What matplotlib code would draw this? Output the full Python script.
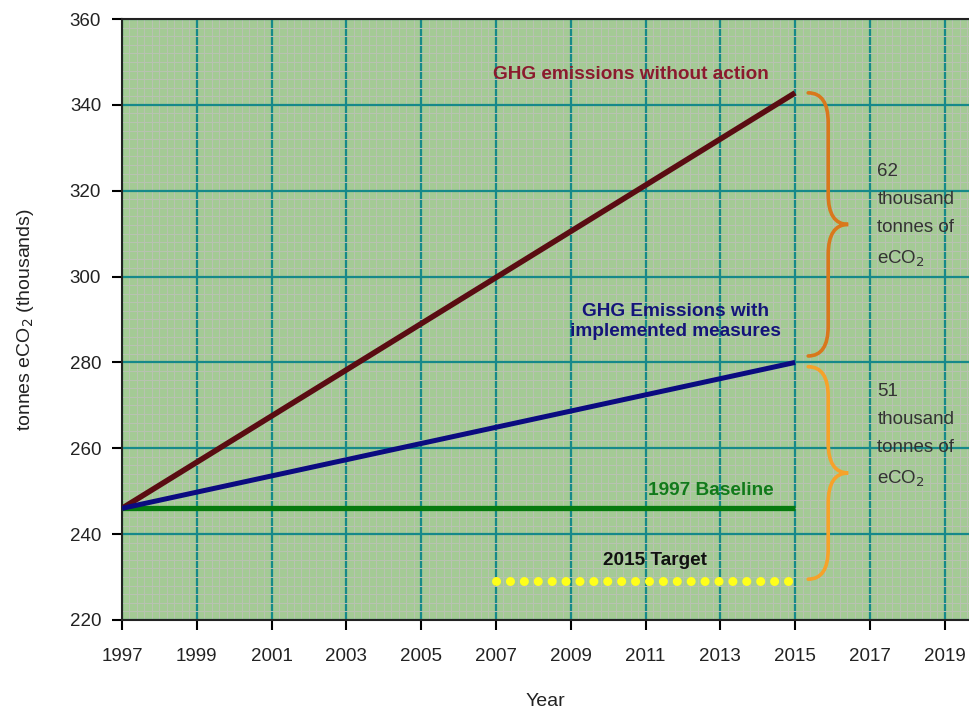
"""GHG emissions projection chart with baseline and 2015 target."""
import matplotlib
matplotlib.use("Agg")
import matplotlib.pyplot as plt
from matplotlib.path import Path
from matplotlib.patches import PathPatch
from matplotlib.ticker import MultipleLocator

plt.rcParams['font.family'] = ['Liberation Sans', 'DejaVu Sans']

# data
years = [1997, 2015]
no_action = [246, 342.8]
with_measures = [246, 280]
baseline = [246, 246]
target_years = [2007, 2015]
target = [229, 229]
gap_upper = 62
gap_lower = 51
x_ticks = list(range(1997, 2020, 2))
y_ticks = list(range(220, 361, 20))

fig = plt.figure(figsize=(9.69, 7.15), dpi=100)
ax = fig.add_axes([0.1259, 0.1329, 0.8741, 0.8405])
ax.set_facecolor("#a4ca95")

ax.set_xlim(1997, 2019.65)
ax.set_ylim(220, 360)
ax.set_xticks(x_ticks)
ax.set_yticks(y_ticks)
ax.xaxis.set_minor_locator(MultipleLocator(0.2))
ax.yaxis.set_minor_locator(MultipleLocator(2))
ax.grid(which="minor", color="#b9c2b2", lw=0.7, zorder=0)
ax.grid(which="major", color="#16898a", lw=1.6, zorder=1)
ax.set_axisbelow(True)
ax.tick_params(which="minor", length=0)
ax.tick_params(which="major", direction="out", length=7, width=1.5,
               labelsize=13.5, labelcolor="#222222", pad=8)
ax.tick_params(axis="x", pad=13)

for s in ["left", "bottom", "top"]:
    ax.spines[s].set_linewidth(1.5)
    ax.spines[s].set_color("#222222")
ax.spines["right"].set_visible(False)

ax.plot(years, no_action, color="#5a0c12", lw=4, solid_capstyle="butt", zorder=4)
ax.plot(years, with_measures, color="#0b0b80", lw=3.6, solid_capstyle="butt", zorder=4)
ax.plot(years, baseline, color="#067a10", lw=3.8, solid_capstyle="butt", zorder=3)
ax.plot(target_years, target, color="#ffff1a", lw=6.5,
        linestyle=(0, (0.01, 1.53)), dash_capstyle="round", zorder=4)


def brace(x, y0, y1, w, color, r=7):
    ym = (y0 + y1) / 2
    xs = x + w / 2
    verts = [(x, y1), (xs, y1), (xs, y1 - r),
             (xs, ym + r), (xs, ym), (x + w, ym),
             (xs, ym), (xs, ym - r),
             (xs, y0 + r), (xs, y0), (x, y0)]
    codes = [Path.MOVETO, Path.CURVE3, Path.CURVE3,
             Path.LINETO, Path.CURVE3, Path.CURVE3,
             Path.CURVE3, Path.CURVE3,
             Path.LINETO, Path.CURVE3, Path.CURVE3]
    ax.add_patch(PathPatch(Path(verts, codes), fill=False, ec=color, lw=2.6,
                           capstyle="round", zorder=5))


brace(2015.35, with_measures[1] + 1.5, no_action[1], 1.07, "#d9781c")
brace(2015.35, target[1] + 0.5, with_measures[1] - 1.0, 1.07, "#f6a22a")

ax.text(2010.6, 347, "GHG emissions without action", color="#8b1a2e",
        fontsize=13.7, fontweight="bold", ha="center", va="center", zorder=6)
ax.text(2011.8, 289.5, "GHG Emissions with\nimplemented measures", color="#14147a",
        fontsize=13.7, fontweight="bold", ha="center", va="center", linespacing=1.2, zorder=6)
ax.text(2012.75, 250.2, "1997 Baseline", color="#117a1a",
        fontsize=13.7, fontweight="bold", ha="center", va="center", zorder=6)
ax.text(2011.25, 233.9, "2015 Target", color="#111111",
        fontsize=13.7, fontweight="bold", ha="center", va="center", zorder=6)

ax.text(2017.2, 326.5, f"{gap_upper}\nthousand\ntonnes of\neCO$_2$", color="#333333",
        fontsize=13.5, ha="left", va="top", linespacing=1.85, zorder=6)
ax.text(2017.2, 275.3, f"{gap_lower}\nthousand\ntonnes of\neCO$_2$", color="#333333",
        fontsize=13.5, ha="left", va="top", linespacing=1.85, zorder=6)

ax.set_xlabel("Year", fontsize=14, color="#222222", labelpad=20)
ax.set_ylabel("tonnes eCO$_2$ (thousands)", fontsize=14, color="#222222", labelpad=24)

fig.savefig("out.png", dpi=100)
